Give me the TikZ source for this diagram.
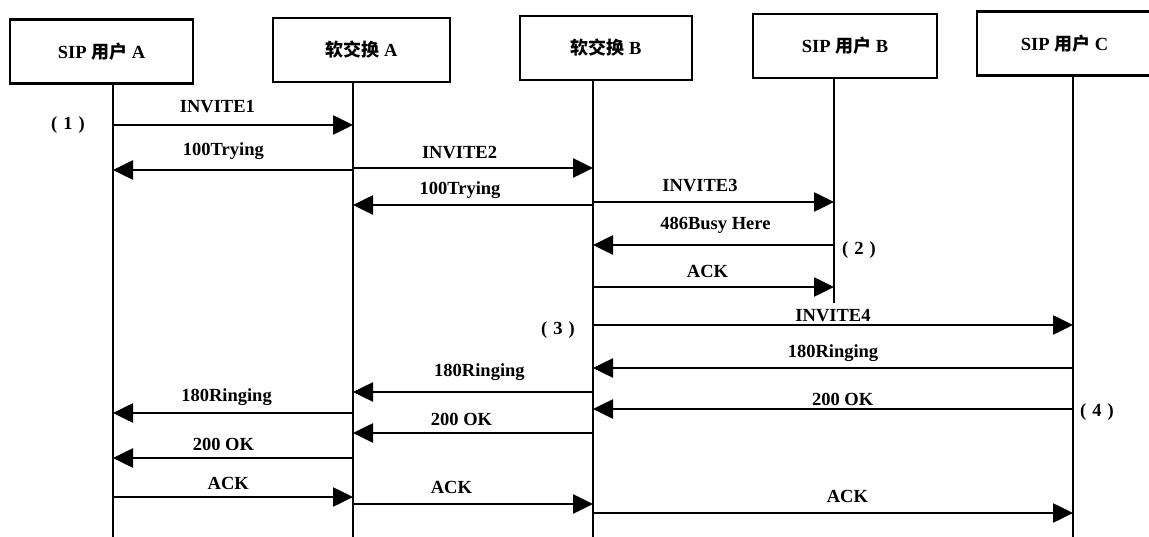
\documentclass[tikz,border=0pt]{standalone}
\usepackage{fontspec}
\setmainfont{Liberation Serif}
\newfontfamily\cjk{Noto Sans CJK SC}
\usetikzlibrary{arrows.meta}
\tikzset{>={Triangle[length=20pt,width=19pt]}}

\begin{document}
\begin{tikzpicture}[x=1pt, y=-1pt,
    head/.style={draw, line width=2.8pt, minimum height=64pt, inner sep=0pt, font=\bfseries\fontsize{18.5}{22}\selectfont},
    life/.style={line width=2.8pt},
    msg/.style={->, line width=2.6pt},
    lbl/.style={anchor=base, inner sep=0pt, yshift=#1, font=\bfseries\fontsize{18.5}{22}\selectfont},
    lbl/.default=10pt,
    note/.style={inner sep=0pt, font=\bfseries\fontsize{18.5}{22}\selectfont}]
  \useasboundingbox (0,0) rectangle (1149,537);
  % heads
  \node[head, minimum width=183pt] (userA) at (101.5,51.5) {SIP {\cjk\fontsize{18}{22}\selectfont 用户} A};
  \node[head, minimum width=177pt] (softA) at (361.5,50) {{\cjk\fontsize{18}{22}\selectfont 软交换} A};
  \node[head, minimum width=172pt] (softB) at (606,48) {{\cjk\fontsize{18}{22}\selectfont 软交换} B};
  \node[head, minimum width=184pt] (userB) at (845,46) {SIP {\cjk\fontsize{18}{22}\selectfont 用户} B};
  \node[head, minimum width=175pt] (userC) at (1064.5,43.5) {SIP {\cjk\fontsize{18}{22}\selectfont 用户} C};
  % lifelines
  \coordinate (A) at (113,0);
  \coordinate (SA) at (353,0);
  \coordinate (SB) at (593,0);
  \coordinate (B) at (834,0);
  \coordinate (C) at (1073,0);
  \draw[life] (userA.south -| A) -- (A |- 0,540);
  \draw[life] (softA.south -| SA) -- (SA |- 0,540);
  \draw[life] (softB.south -| SB) -- (SB |- 0,540);
  \draw[life] (userB.south -| B) -- (B |- 0,303);
  \draw[life] (userC.south -| C) -- (C |- 0,540);
  % messages
  \draw[msg] (A |- 0,125) -- node[lbl=12pt, pos=.435] {INVITE1} (SA |- 0,125);
  \draw[msg] (SA |- 0,170) -- node[lbl=14pt, pos=.54] {100Trying} (A |- 0,170);
  \draw[msg] (SA |- 0,168) -- node[lbl=9pt, pos=.444] {INVITE2} (SB |- 0,168);
  \draw[msg] (SB |- 0,205) -- node[lbl, pos=.554] {100Trying} (SA |- 0,205);
  \draw[msg] (SB |- 0,202) -- node[lbl, pos=.444] {INVITE3} (B |- 0,202);
  \draw[msg] (B |- 0,245) -- node[lbl=15pt, pos=.492] {486Busy Here} (SB |- 0,245);
  \draw[msg] (SB |- 0,287) -- node[lbl=9pt, pos=.475] {ACK} (B |- 0,287);
  \draw[msg] (SB |- 0,325) -- node[lbl=3pt, pos=.5] {INVITE4} (C |- 0,325);
  \draw[msg] (C |- 0,368) -- node[lbl, pos=.5] {180Ringing} (SB |- 0,368);
  \draw[msg] (SB |- 0,392) -- node[lbl=15pt, pos=.473] {180Ringing} (SA |- 0,392);
  \draw[msg] (C |- 0,409) -- node[lbl=3pt, pos=.48] {200 OK} (SB |- 0,409);
  \draw[msg] (SA |- 0,413) -- node[lbl=12pt, pos=.527] {180Ringing} (A |- 0,413);
  \draw[msg] (SB |- 0,433) -- node[lbl=8pt, pos=.548] {200 OK} (SA |- 0,433);
  \draw[msg] (SA |- 0,458) -- node[lbl=8pt, pos=.54] {200 OK} (A |- 0,458);
  \draw[msg] (A |- 0,497) -- node[lbl=8pt, pos=.48] {ACK} (SA |- 0,497);
  \draw[msg] (SA |- 0,504) -- node[lbl=11pt, pos=.41] {ACK} (SB |- 0,504);
  \draw[msg] (SB |- 0,513) -- node[lbl=11pt, pos=.53] {ACK} (C |- 0,513);
  % steps
  \node[note] (n1) at (68,125) {(\hspace{6pt}1\hspace{6pt})};
  \node[note] (n2) at (859,250) {(\hspace{6pt}2\hspace{6pt})};
  \node[note] (n3) at (558,330) {(\hspace{6pt}3\hspace{6pt})};
  \node[note] (n4) at (1097,412) {(\hspace{6pt}4\hspace{6pt})};
\end{tikzpicture}
\end{document}
